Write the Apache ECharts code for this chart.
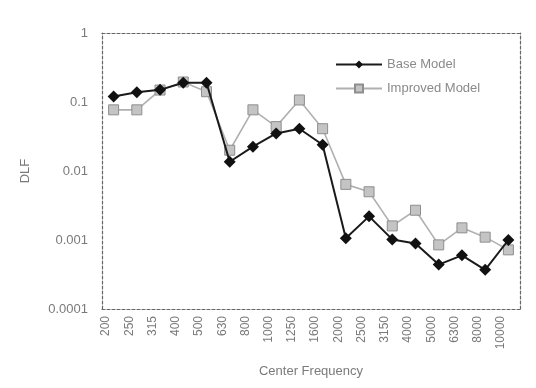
<!DOCTYPE html>
<html>
<head>
<meta charset="utf-8">
<script src="https://cdn.jsdelivr.net/npm/echarts@6/dist/echarts.min.js"></script>
<style>
  html, body { margin: 0; padding: 0; background: #fff; }
  #chart { width: 536px; height: 388px; }
</style>
</head>
<body>
<div id="chart"></div>
<script>
// One-third octave centre frequencies (Hz)
const frequencies = ['200', '250', '315', '400', '500', '630', '800', '1000', '1250', '1600',
                     '2000', '2500', '3150', '4000', '5000', '6300', '8000', '10000'];

// DLF per band
const baseModel = [0.12, 0.138, 0.15, 0.19, 0.19, 0.0136, 0.0225, 0.035, 0.041, 0.024,
                   0.00106, 0.0022, 0.00102, 0.00089, 0.00044, 0.0006, 0.00037, 0.001];
const improvedModel = [0.077, 0.077, 0.149, 0.195, 0.141, 0.020, 0.077, 0.044, 0.107, 0.041,
                       0.0064, 0.005, 0.0016, 0.0027, 0.00085, 0.0015, 0.0011, 0.00072];

// Decade tick labels on the log axis
const yTickLabels = ['0.0001', '0.001', '0.01', '0.1', '1'];

const textColor = '#7a7a7a';
const frameColor = '#666';
const fontFamily = 'Liberation Sans, Arial, sans-serif';

const chart = echarts.init(document.getElementById('chart'));

const frameLine = { show: true, lineStyle: { color: frameColor, width: 1.2, type: [3, 2] } };

chart.setOption({
  animation: false,
  textStyle: { fontFamily },
  grid: { left: 102, right: 16, top: 33, bottom: 79 },
  legend: {
    orient: 'vertical',
    left: 330,
    top: 53,
    itemWidth: 46,
    itemHeight: 10,
    itemGap: 11,
    textStyle: { color: '#8a8a8a', fontSize: 13, fontFamily },
    data: ['Base Model', 'Improved Model']
  },
  xAxis: [
    {
      type: 'category',
      data: frequencies,
      boundaryGap: true,
      axisLine: frameLine,
      axisTick: { show: false },
      axisLabel: {
        rotate: 90,
        interval: 0,
        color: textColor,
        fontSize: 12,
        margin: 7,
        verticalAlign: 'bottom',
        lineHeight: 15
      },
      name: 'Center Frequency',
      nameLocation: 'middle',
      nameGap: 56,
      nameTextStyle: { color: textColor, fontSize: 13 }
    },
    {
      type: 'category',
      data: frequencies,
      position: 'top',
      axisLine: frameLine,
      axisTick: { show: false },
      axisLabel: { show: false }
    }
  ],
  yAxis: [
    {
      type: 'log',
      logBase: 10,
      min: 0.0001,
      max: 1,
      axisLine: frameLine,
      axisTick: { show: false },
      splitLine: { show: false },
      axisLabel: {
        color: textColor,
        fontSize: 13,
        margin: 14,
        formatter: (v) => yTickLabels[Math.round(Math.log10(v)) + 4]
      },
      name: 'DLF',
      nameLocation: 'middle',
      nameGap: 70,
      nameTextStyle: { color: textColor, fontSize: 13 }
    },
    {
      type: 'log',
      logBase: 10,
      min: 0.0001,
      max: 1,
      position: 'right',
      axisLine: frameLine,
      axisTick: { show: false },
      splitLine: { show: false },
      axisLabel: { show: false }
    }
  ],
  series: [
    {
      name: 'Improved Model',
      type: 'line',
      data: improvedModel,
      symbol: 'rect',
      symbolSize: 10,
      lineStyle: { color: '#b0b0b0', width: 1.6 },
      itemStyle: { color: '#c4c4c4', borderColor: '#8e8e8e', borderWidth: 1 },
      z: 2
    },
    {
      name: 'Base Model',
      type: 'line',
      data: baseModel,
      symbol: 'diamond',
      symbolSize: 12,
      lineStyle: { color: '#1a1a1a', width: 2 },
      itemStyle: { color: '#111' },
      z: 3
    }
  ]
});
</script>
</body>
</html>
